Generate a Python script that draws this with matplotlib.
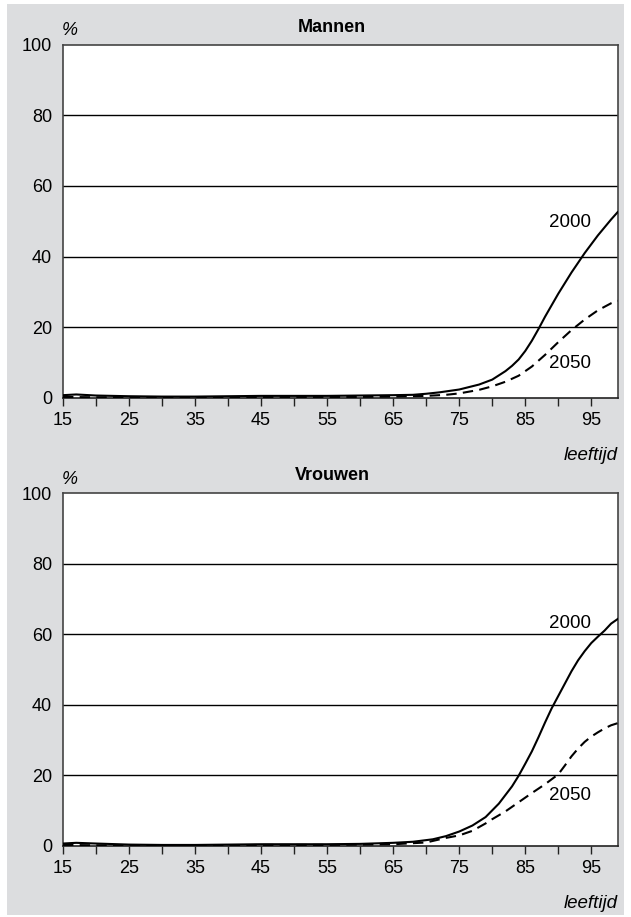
import matplotlib
matplotlib.use("Agg")
import matplotlib.pyplot as plt
from matplotlib.patches import Rectangle

plt.rcParams['font.family'] = ['Liberation Sans', 'DejaVu Sans']

# ---- data ----
ages_m2000 = [15, 17, 20, 25, 30, 35, 40, 45, 50, 55, 60, 65, 68, 70, 72, 75, 78, 80, 82, 83, 84, 85, 86, 87, 88, 90, 92, 94, 96, 98, 99]
men_2000 = [0.8, 1.0, 0.7, 0.5, 0.4, 0.4, 0.5, 0.6, 0.6, 0.6, 0.7, 0.8, 0.9, 1.2, 1.6, 2.4, 3.8, 5.2, 7.6, 9.1, 10.9, 13.3, 16.2, 19.5, 23.0, 29.5, 35.5, 41.0, 46.0, 50.5, 52.6]

ages_m2050 = [15, 20, 25, 30, 35, 40, 45, 50, 55, 60, 65, 70, 73, 75, 78, 80, 82, 84, 86, 88, 90, 92, 94, 96, 98, 99]
men_2050 = [0.3, 0.2, 0.2, 0.2, 0.2, 0.2, 0.3, 0.3, 0.3, 0.3, 0.4, 0.6, 0.9, 1.3, 2.3, 3.3, 4.6, 6.3, 8.9, 12.2, 15.8, 19.2, 22.2, 24.8, 26.8, 27.5]

ages_w2000 = [15, 17, 20, 25, 30, 35, 40, 45, 50, 55, 60, 65, 68, 71, 73, 75, 77, 79, 81, 83, 84, 85, 86, 87, 88, 89, 90, 91, 92, 93, 94, 95, 96, 97, 98, 99]
women_2000 = [0.7, 0.9, 0.7, 0.4, 0.3, 0.3, 0.4, 0.5, 0.5, 0.5, 0.6, 0.9, 1.2, 1.9, 2.8, 4.1, 5.8, 8.2, 12.0, 16.9, 19.9, 23.3, 26.8, 30.8, 35.0, 39.0, 42.5, 46.0, 49.5, 52.6, 55.2, 57.5, 59.3, 61.0, 63.0, 64.3]

ages_w2050 = [15, 20, 25, 30, 35, 40, 45, 50, 55, 60, 65, 70, 73, 75, 77, 79, 80, 82, 84, 86, 88, 90, 91, 92, 93, 94, 95, 96, 97, 98, 99]
women_2050 = [0.3, 0.2, 0.2, 0.2, 0.2, 0.2, 0.3, 0.3, 0.3, 0.4, 0.5, 1.0, 2.3, 3.0, 4.3, 6.4, 7.6, 9.8, 12.4, 15.0, 17.5, 20.3, 22.8, 25.4, 27.6, 29.5, 31.0, 32.2, 33.3, 34.2, 34.8]

titles = ["Mannen", "Vrouwen"]
series_labels = ["2000", "2050"]
x_ticks = [15, 20, 25, 30, 35, 40, 45, 50, 55, 60, 65, 70, 75, 80, 85, 90, 95]
x_labels = [str(t) if (t - 15) % 10 == 0 else "" for t in x_ticks]
y_ticks = [0, 20, 40, 60, 80, 100]

panels = [
    (ages_m2000, men_2000, ages_m2050, men_2050, (91.8, 49.6), (91.8, 9.8)),
    (ages_w2000, women_2000, ages_w2050, women_2050, (91.8, 63.0), (91.8, 14.2)),
]

W, H = 631, 917
fig = plt.figure(figsize=(W / 100, H / 100), dpi=100)
fig.patch.set_facecolor('white')
fig.patches.append(Rectangle((7 / W, 1 - 915 / H), 617 / W, 911 / H,
                             transform=fig.transFigure, facecolor='#dcdddf',
                             edgecolor='none', zorder=-10))

boxes = [(63, 44.5, 617.7, 398), (63, 493, 617.7, 846)]
for (l, t, r, b), title, (xa, ya, xb, yb, lab1, lab2) in zip(boxes, titles, panels):
    ax = fig.add_axes([l / W, 1 - b / H, (r - l) / W, (b - t) / H])
    hpx = b - t
    ax.set_facecolor('white')
    ax.set_xlim(15, 99)
    ax.set_ylim(0, 100)
    for y in [20, 40, 60, 80]:
        ax.axhline(y, color='black', lw=1.0, zorder=1)
    ax.plot(xa, ya, color='black', lw=1.5, solid_joinstyle='round', zorder=3)
    ax.plot(xb, yb, color='black', lw=1.5, dashes=(5, 3), zorder=3)
    ax.text(lab1[0], lab1[1], series_labels[0], fontsize=13.5, ha='center', va='center')
    ax.text(lab2[0], lab2[1], series_labels[1], fontsize=13.5, ha='center', va='center')
    ax.set_xticks(x_ticks)
    ax.set_xticklabels(x_labels, fontsize=13)
    ax.set_yticks(y_ticks)
    ax.set_yticklabels([str(v) for v in y_ticks], fontsize=13)
    ax.tick_params(axis='x', direction='out', length=6, width=1, color='#222222', pad=4)
    ax.tick_params(axis='y', length=0, pad=8)
    for s in ['left', 'top', 'right']:
        ax.spines[s].set_color('#444444')
        ax.spines[s].set_linewidth(1.2)
    ax.spines['bottom'].set_color('#222222')
    ax.spines['bottom'].set_linewidth(1.2)
    ax.text((332 - l) / (r - l), 1 + 17.5 / hpx, title, transform=ax.transAxes,
            fontsize=13, fontweight='bold', ha='center', va='center')
    ax.text(-0.002, 1 + 14 / hpx, "%", transform=ax.transAxes, fontsize=13,
            style='italic', ha='left', va='center')
    ax.text(1.0, -57 / hpx, "leeftijd", transform=ax.transAxes, fontsize=13.5,
            style='italic', ha='right', va='center')

fig.savefig("out.png", dpi=100)
